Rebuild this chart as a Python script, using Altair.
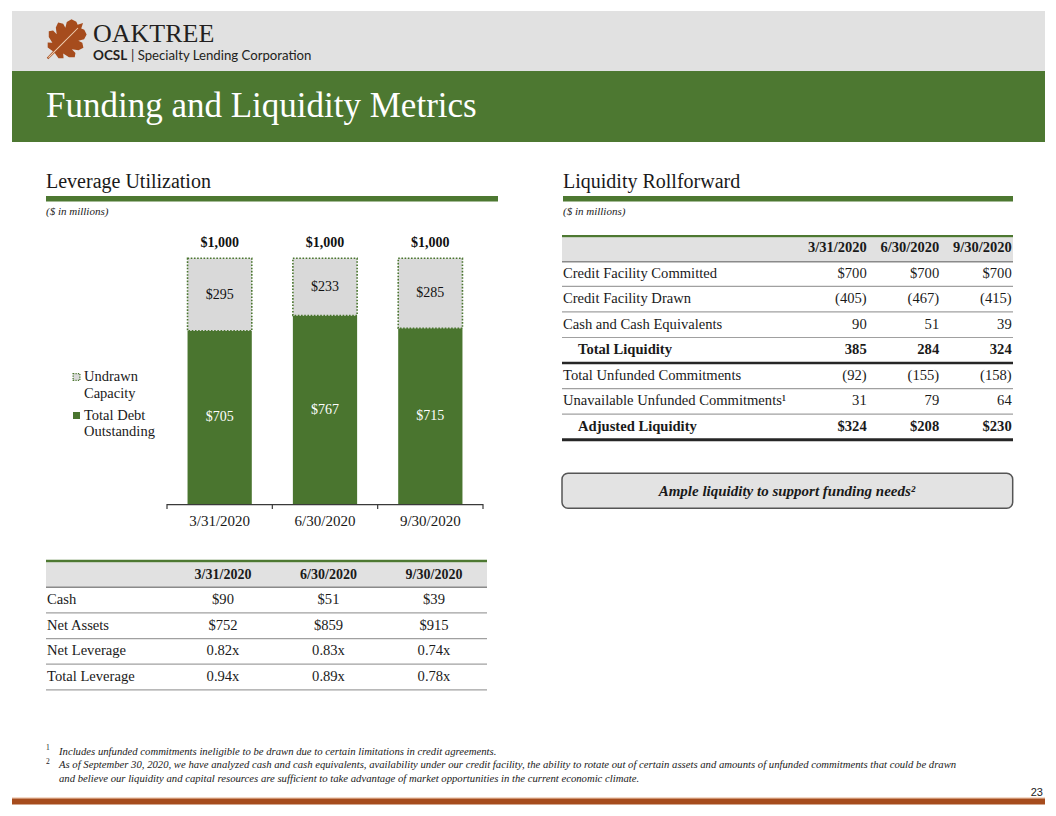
import altair as alt
import pandas as pd

# ------------------------------------------------------------------ data
dates = ["3/31/2020", "6/30/2020", "9/30/2020"]
series_names = ["Undrawn Capacity", "Total Debt Outstanding"]
legend_labels = ["Undrawn\nCapacity", "Total Debt\nOutstanding"]
debt_outstanding = [705, 767, 715]
undrawn_capacity = [295, 233, 285]

lev_rows = ["Cash", "Net Assets", "Net Leverage", "Total Leverage"]
lev_cash = [90, 51, 39]
lev_net_assets = [752, 859, 915]
lev_net_leverage = [0.82, 0.83, 0.74]
lev_total_leverage = [0.94, 0.89, 0.78]

liq_rows = ["Credit Facility Committed", "Credit Facility Drawn",
            "Cash and Cash Equivalents", "Total Liquidity",
            "Total Unfunded Commitments", "Unavailable Unfunded Commitments\u00b9",
            "Adjusted Liquidity"]
liq_bold_rows = ["Total Liquidity", "Adjusted Liquidity"]
liq_committed = [700, 700, 700]
liq_drawn = [-405, -467, -415]
liq_cash = [90, 51, 39]
liq_total = [385, 284, 324]
liq_unfunded = [-92, -155, -158]
liq_unavailable = [31, 79, 64]
liq_adjusted = [324, 208, 230]

title = "Funding and Liquidity Metrics"
left_heading = "Leverage Utilization"
right_heading = "Liquidity Rollforward"
units = "($ in millions)"
callout = "Ample liquidity to support funding needs\u00b2"
footnotes = [
    "Includes unfunded commitments ineligible to be drawn due to certain limitations in credit agreements.",
    "As of September 30, 2020, we have analyzed cash and cash equivalents, availability under our credit facility, the ability to rotate out of certain assets and amounts of unfunded commitments that could be drawn",
    "and believe our liquidity and capital resources are sufficient to take advantage of market opportunities in the current economic climate.",
]
page_number = "23"

# ------------------------------------------------------------------ style
SERIF = "Liberation Serif"
SANS = "Lato"
GREEN = "#4d7831"
BAR_GREEN = "#4a752f"
ORANGE = "#a64c1d"
LIGHT = "#e1e1e1"
BARGRAY = "#d9d9d9"
LINE = "#a0a0a0"

OFF = 8  # page margin


def P(v):
    return v - OFF


dummy = pd.DataFrame({"k": [0]})
layers = []


def rect(x0, y0, x1, y1, **kw):
    return alt.Chart(dummy).mark_rect(**kw).encode(
        x=alt.value(P(x0)), x2=alt.value(P(x1)),
        y=alt.value(P(y0)), y2=alt.value(P(y1)))


def txt(x, y, s, **kw):
    base = dict(font=SERIF, fontSize=14, color="#1a1a1a", align="left", baseline="middle")
    base.update(kw)
    return alt.Chart(dummy).mark_text(**base).encode(
        x=alt.value(P(x)), y=alt.value(P(y)), text=alt.value(s))


# ------------------------------------------------------------------ header
layers.append(rect(12, 11, 1045, 71, color=LIGHT))
layers.append(rect(12, 71, 1045, 142, color=GREEN))

LEAF = ("M 0.04 0.97 L 0.05 0.62 L 0.30 0.66 L 0.44 0.52 L 0.30 0.40 L 0.56 0.34 "
        "L 0.72 0.18 L 0.62 0.04 L 0.42 0.04 L 0.63 -0.12 L 0.70 -0.32 L 0.53 -0.43 "
        "L 0.36 -0.38 L 0.48 -0.58 L 0.42 -0.78 L 0.22 -0.85 L 0.10 -0.80 L 0 -1 "
        "L -0.10 -0.80 L -0.22 -0.85 L -0.42 -0.78 L -0.48 -0.58 L -0.36 -0.38 "
        "L -0.53 -0.43 L -0.70 -0.32 L -0.63 -0.12 L -0.42 0.04 L -0.62 0.04 "
        "L -0.72 0.18 L -0.56 0.34 L -0.30 0.40 L -0.44 0.52 L -0.30 0.66 "
        "L -0.05 0.62 L -0.04 0.97 Z")
VEIN = "M 0 0.92 L 0 -0.72"
layers.append(alt.Chart(dummy).mark_point(shape=LEAF, size=2600, filled=True, color=ORANGE,
                                          angle=45, opacity=1, strokeWidth=0)
              .encode(x=alt.value(P(65)), y=alt.value(P(41))))
layers.append(alt.Chart(dummy).mark_point(shape=VEIN, size=2600, filled=False, color="#f1d3b8",
                                          angle=45, opacity=1, strokeWidth=1)
              .encode(x=alt.value(P(65)), y=alt.value(P(41))))

layers.append(txt(93, 41.5, "OAKTREE", fontSize=26, baseline="alphabetic", color="#231f20"))
layers.append(txt(93, 60, "OCSL", font=SANS, fontSize=13.5, fontWeight="bold",
                  baseline="alphabetic", color="#231f20"))
layers.append(txt(131, 60, "| Specialty Lending Corporation", font=SANS, fontSize=13.2,
                  baseline="alphabetic", color="#231f20"))
layers.append(txt(46, 117, title, fontSize=35, baseline="alphabetic", color="white"))

# ------------------------------------------------------------------ section headings
for x0, x1, head in [(46, 498, left_heading), (563, 1013, right_heading)]:
    layers.append(txt(x0, 187.5, head, fontSize=20, baseline="alphabetic"))
    layers.append(rect(x0, 196, x1, 201.5, color=GREEN))
    layers.append(txt(x0, 215, units, fontSize=11, fontStyle="italic", baseline="alphabetic"))

# ------------------------------------------------------------------ bar chart
bar_df = pd.DataFrame({"date": dates, "debt": debt_outstanding, "undrawn": undrawn_capacity})
AX0, AX1, BASE_Y, TOP_Y = 167, 483, 504, 258.3
xs = alt.Scale(domain=dates, range=[P(AX0), P(AX1)], paddingInner=0.39, paddingOuter=0.195)
ys = alt.Scale(domain=[0, 1000], range=[P(BASE_Y), P(TOP_Y)], nice=False, zero=True)
bx = alt.X("date:N", scale=xs, axis=None)

bars = alt.Chart(bar_df).transform_calculate(
    total="datum.debt + datum.undrawn",
    mid_d="datum.debt / 2",
    mid_u="datum.debt + datum.undrawn / 2",
    lab_d="'$' + datum.debt",
    lab_u="'$' + datum.undrawn",
    lab_t="'$' + format(datum.debt + datum.undrawn, ',')",
)
layers.append(bars.mark_bar(color=BAR_GREEN).encode(
    x=bx, y=alt.Y("debt:Q", scale=ys, axis=None)))
layers.append(bars.mark_bar(fill=BARGRAY, stroke=BAR_GREEN, strokeWidth=1.6,
                            strokeDash=[1.6, 1.6]).encode(
    x=bx, y=alt.Y("total:Q", scale=ys, axis=None), y2="debt:Q"))
layers.append(bars.mark_text(font=SERIF, fontSize=14, color="white").encode(
    x=bx, y=alt.Y("mid_d:Q", scale=ys, axis=None), text="lab_d:N"))
layers.append(bars.mark_text(font=SERIF, fontSize=14, color="#111").encode(
    x=bx, y=alt.Y("mid_u:Q", scale=ys, axis=None), text="lab_u:N"))
layers.append(bars.mark_text(font=SERIF, fontSize=14, fontWeight="bold", color="#111", dy=-15).encode(
    x=bx, y=alt.Y("total:Q", scale=ys, axis=None), text="lab_t:N"))
# category axis
layers.append(rect(AX0, BASE_Y, AX1, BASE_Y + 1.3, color="#3a3a3a"))
for i in range(len(dates) + 1):
    tx = AX0 + i * (AX1 - AX0) / len(dates)
    layers.append(rect(tx - 0.6, BASE_Y, tx + 0.6, BASE_Y + 5, color="#3a3a3a"))
layers.append(bars.mark_text(font=SERIF, fontSize=15, color="#1a1a1a").encode(
    x=bx, y=alt.value(P(521)), text="date:N"))

# legend
leg_df = pd.DataFrame({"series": series_names, "label": legend_labels})
ly = alt.Y("series:N", scale=alt.Scale(domain=series_names, range=[P(377), P(415.5)],
                                       type="point", padding=0), axis=None)
leg = alt.Chart(leg_df)
layers.append(leg.transform_filter(alt.datum.series == series_names[0]).mark_square(
    size=46, filled=True, fill=BARGRAY, stroke=BAR_GREEN, strokeWidth=1.3, strokeDash=[1.2, 1.2],
    opacity=1).encode(x=alt.value(P(76.5)), y=ly))
layers.append(leg.transform_filter(alt.datum.series == series_names[1]).mark_square(
    size=49, filled=True, color=BAR_GREEN, opacity=1).encode(
    x=alt.value(P(76.5)), y=ly))
layers.append(leg.mark_text(font=SERIF, fontSize=14.5, color="#1a1a1a", align="left",
                            baseline="middle", lineBreak="\n", lineHeight=16.5).encode(
    x=alt.value(P(84)), y=ly, text="label:N"))

# ------------------------------------------------------------------ left table
L_X0, L_X1 = 46, 487
l_domain = ["__hdr"] + lev_rows
lrow = alt.Y("row:N", scale=alt.Scale(domain=l_domain, range=[P(574.5), P(677)], type="point",
                                      padding=0), axis=None)
lcol = alt.X("date:N", scale=alt.Scale(domain=dates, range=[P(223), P(434)], type="point",
                                       padding=0), axis=None)
layers.append(rect(L_X0, 559.8, L_X1, 562.5, color=GREEN))
layers.append(rect(L_X0, 562.5, L_X1, 587, color=LIGHT))
layers.append(rect(L_X0, 586.5, L_X1, 588, color="#8a8a8a"))
l_step = (677 - 574.5) / len(lev_rows)
for i in range(1, len(lev_rows) + 1):
    ly_ = 574.5 + i * l_step + l_step / 2
    layers.append(rect(L_X0, ly_ - 0.6, L_X1, ly_ + 0.6, color=LINE))

lev_cells = []
for r, vals in zip(lev_rows, [lev_cash, lev_net_assets, lev_net_leverage, lev_total_leverage]):
    for d, v in zip(dates, vals):
        s = f"${v:,}" if isinstance(v, int) else f"{v:.2f}x"
        lev_cells.append({"row": r, "date": d, "text": s})
lev_df = pd.DataFrame(lev_cells)
layers.append(alt.Chart(pd.DataFrame({"row": ["__hdr"] * 3, "date": dates})).mark_text(
    font=SERIF, fontSize=14, fontWeight="bold", color="#1a1a1a").encode(
    x=lcol, y=lrow, text="date:N"))
layers.append(alt.Chart(lev_df).mark_text(font=SERIF, fontSize=14.6, color="#1a1a1a").encode(
    x=lcol, y=lrow, text="text:N"))
layers.append(alt.Chart(pd.DataFrame({"row": lev_rows})).mark_text(
    font=SERIF, fontSize=14.6, color="#1a1a1a", align="left").encode(
    x=alt.value(P(47)), y=lrow, text="row:N"))

# ------------------------------------------------------------------ right table
R_X0, R_X1 = 562, 1013
r_domain = ["__hdr"] + liq_rows
R_TOP, R_BOT = 248, 427
rrow = alt.Y("row:N", scale=alt.Scale(domain=r_domain, range=[P(R_TOP), P(R_BOT)], type="point",
                                      padding=0), axis=None)
rcol = alt.X("date:N", scale=alt.Scale(domain=dates, range=[P(866.7), P(1011.7)], type="point",
                                       padding=0), axis=None)
layers.append(rect(R_X0, 235, R_X1, 237.6, color=GREEN))
layers.append(rect(R_X0, 237.6, R_X1, 261.5, color=LIGHT))
layers.append(rect(R_X0, 261, R_X1, 262.5, color="#8a8a8a"))
r_step = (R_BOT - R_TOP) / len(liq_rows)
for i, r in enumerate(liq_rows, start=1):
    yy = R_TOP + i * r_step + r_step / 2
    if r in liq_bold_rows:
        th = 1.2 if i < len(liq_rows) else 1.5
        layers.append(rect(R_X0, yy - th, R_X1, yy + th, color="#262626"))
    else:
        layers.append(rect(R_X0, yy - 0.6, R_X1, yy + 0.6, color=LINE))


def fmt(v, dollar):
    s = f"{abs(v):,}"
    if v < 0:
        s = f"({s})"
    return "$" + s if dollar else s


liq_cells = []
for i, (r, vals) in enumerate(zip(liq_rows, [liq_committed, liq_drawn, liq_cash, liq_total,
                                             liq_unfunded, liq_unavailable, liq_adjusted])):
    for d, v in zip(dates, vals):
        liq_cells.append({"row": r, "date": d, "text": fmt(v, i in (0, len(liq_rows) - 1)),
                          "bold": r in liq_bold_rows})
liq_df = pd.DataFrame(liq_cells)
layers.append(alt.Chart(pd.DataFrame({"row": ["__hdr"] * 3, "date": dates})).mark_text(
    font=SERIF, fontSize=14.5, fontWeight="bold", color="#1a1a1a", align="right").encode(
    x=rcol, y=rrow, text="date:N"))
layers.append(alt.Chart(liq_df[~liq_df.bold]).mark_text(
    font=SERIF, fontSize=14.6, color="#1a1a1a", align="right").encode(
    x=rcol, y=rrow, text="text:N"))
layers.append(alt.Chart(liq_df[liq_df.bold]).mark_text(
    font=SERIF, fontSize=14.6, fontWeight="bold", color="#1a1a1a", align="right").encode(
    x=rcol, y=rrow, text="text:N"))
lab_df = pd.DataFrame({"row": liq_rows, "bold": [r in liq_bold_rows for r in liq_rows]})
layers.append(alt.Chart(lab_df[~lab_df.bold]).mark_text(
    font=SERIF, fontSize=14.6, color="#1a1a1a", align="left").encode(
    x=alt.value(P(563)), y=rrow, text="row:N"))
layers.append(alt.Chart(lab_df[lab_df.bold]).mark_text(
    font=SERIF, fontSize=14.6, fontWeight="bold", color="#1a1a1a", align="left").encode(
    x=alt.value(P(578)), y=rrow, text="row:N"))

# callout
layers.append(rect(562, 473.3, 1012.7, 508.3, fill="#e3e3e3", stroke="#555555",
                   strokeWidth=1.5, cornerRadius=6))
layers.append(txt(787, 491, callout, fontSize=15, fontWeight="bold", fontStyle="italic",
                  align="center"))

# ------------------------------------------------------------------ footnotes & footer
layers.append(txt(46, 750, "1", fontSize=7.5, baseline="alphabetic"))
layers.append(txt(59, 754.5, footnotes[0], fontSize=10.7, fontStyle="italic", baseline="alphabetic"))
layers.append(txt(46, 763.5, "2", fontSize=7.5, baseline="alphabetic"))
layers.append(txt(59, 767.5, footnotes[1], fontSize=10.7, fontStyle="italic", baseline="alphabetic"))
layers.append(txt(59, 781.5, footnotes[2], fontSize=10.7, fontStyle="italic", baseline="alphabetic"))
layers.append(rect(12, 797.5, 1045, 798.5, color="#e9b896"))
layers.append(rect(12, 798.5, 1045, 804.5, color=ORANGE))
layers.append(txt(1043, 796, page_number, font="Liberation Sans", fontSize=11,
                  align="right", baseline="alphabetic", color="#222"))

chart = alt.layer(*layers).resolve_scale(x="independent", y="independent").properties(
    width=1040, height=800, padding=0, background="white",
    autosize=alt.AutoSizeParams(type="none"),
).configure_view(strokeWidth=0)

chart.save("out.html", embed_options={"renderer": "svg", "actions": False})
